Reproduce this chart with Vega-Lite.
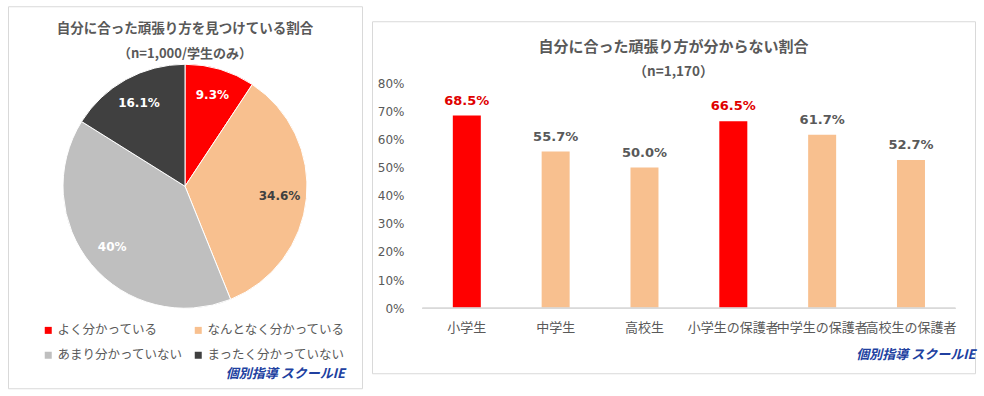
{
  "$schema": "https://vega.github.io/schema/vega-lite/v6.json",
  "padding": {"left": 7, "top": 5, "right": 9, "bottom": 8},
  "background": "white",
  "spacing": 8,
  "center": true,
  "config": {
    "font": "Noto Sans CJK JP",
    "view": {"stroke": "#D9D9D9", "strokeWidth": 1}
  },
  "hconcat": [
    {
      "width": 354,
      "height": 382,
      "view": {"stroke": "#D9D9D9", "strokeWidth": 1},
      "data": {"values": [
        {"answer": "よく分かっている", "pct": 9.3, "order": 1, "label": "9.3%"},
        {"answer": "なんとなく分かっている", "pct": 34.6, "order": 2, "label": "34.6%"},
        {"answer": "あまり分かっていない", "pct": 40.0, "order": 3, "label": "40%"},
        {"answer": "まったく分かっていない", "pct": 16.1, "order": 4, "label": "16.1%"}
      ]},
      "title": {
        "text": "自分に合った頑張り方を見つけている割合",
        "subtitle": "（n=1,000/学生のみ）",
        "anchor": "middle",
        "offset": -55,
        "fontSize": 13.5,
        "fontWeight": "bold",
        "color": "#595959",
        "subtitleFontSize": 13,
        "subtitleFontWeight": "bold",
        "subtitleColor": "#595959",
        "subtitlePadding": 13
      },
      "encoding": {
        "theta": {"field": "pct", "type": "quantitative", "stack": true},
        "order": {"field": "order", "type": "quantitative"}
      },
      "layer": [
        {
          "mark": {"type": "arc", "outerRadius": 122, "stroke": "white", "strokeWidth": 1, "yOffset": -11},
          "encoding": {
            "color": {
              "field": "answer",
              "type": "nominal",
              "sort": ["よく分かっている", "なんとなく分かっている", "あまり分かっていない", "まったく分かっていない"],
              "scale": {
                "domain": ["よく分かっている", "なんとなく分かっている", "あまり分かっていない", "まったく分かっていない"],
                "range": ["#FF0000", "#F8C08F", "#BFBFBF", "#404040"]
              },
              "legend": {
                "orient": "none",
                "legendX": 34,
                "legendY": 318,
                "direction": "horizontal",
                "columns": 2,
                "columnPadding": 9,
                "rowPadding": 12,
                "symbolType": "square",
                "symbolSize": 49,
                "symbolStrokeWidth": 0,
                "symbolOffset": 0,
                "labelFontSize": 12.5,
                "labelColor": "#595959",
                "labelLimit": 0,
                "labelOffset": 3,
                "title": "個別指導 スクールIE",
                "titleOrient": "bottom",
                "titleAnchor": "end",
                "titleFontSize": 13,
                "titleFontStyle": "italic",
                "titleFontWeight": "bold",
                "titleColor": "#2040A0",
                "titlePadding": 6
              }
            }
          }
        },
        {
          "mark": {"type": "text", "radius": 95, "yOffset": -11, "font": "DejaVu Sans", "fontSize": 12, "fontWeight": "bold"},
          "encoding": {
            "text": {"field": "label"},
            "color": {
              "condition": {"test": "datum.answer === 'なんとなく分かっている'", "value": "#404040"},
              "value": "white"
            }
          }
        }
      ]
    },
    {
      "width": 603,
      "height": 352,
      "data": {"values": [
        {"group": "小学生", "target": "小学生", "value": 0.685},
        {"group": "中学生", "target": "中学生", "value": 0.557},
        {"group": "高校生", "target": "高校生", "value": 0.500},
        {"group": "小学生の保護者", "target": "小学生", "value": 0.665},
        {"group": "中学生の保護者", "target": "中学生", "value": 0.617},
        {"group": "高校生の保護者", "target": "高校生", "value": 0.527}
      ]},
      "title": {
        "text": "自分に合った頑張り方が分からない割合",
        "subtitle": "（n=1,170）",
        "anchor": "middle",
        "offset": -57,
        "fontSize": 15,
        "fontWeight": "bold",
        "color": "#595959",
        "subtitleFontSize": 13.5,
        "subtitleFontWeight": "bold",
        "subtitleColor": "#595959",
        "subtitlePadding": 10
      },
      "encoding": {
        "x": {
          "field": "group",
          "type": "nominal",
          "sort": null,
          "scale": {"paddingInner": 0, "paddingOuter": 0.394, "align": 0.72},
          "axis": {
            "orient": "bottom",
            "offset": -65,
            "ticks": false,
            "domain": false,
            "labelAngle": 0,
            "labelPadding": 13,
            "labelFontSize": 13,
            "labelColor": "#595959",
            "labelOverlap": false,
            "labelLimit": 0,
            "title": "個別指導 スクールIE",
            "titleAnchor": "end",
            "titlePadding": 14,
            "titleFontSize": 13,
            "titleFontStyle": "italic",
            "titleFontWeight": "bold",
            "titleColor": "#2040A0"
          }
        }
      },
      "layer": [
        {
          "mark": {"type": "bar", "width": 28},
          "encoding": {
            "y": {
              "field": "value",
              "type": "quantitative",
              "scale": {"domain": [-0.2311, 1.0204], "nice": false, "zero": false},
              "axis": {
                "values": [0, 0.1, 0.2, 0.3, 0.4, 0.5, 0.6, 0.7, 0.8],
                "format": ".0%",
                "orient": "left",
                "offset": -32,
                "ticks": false,
                "domain": false,
                "grid": false,
                "labelPadding": 0,
                "labelFont": "DejaVu Sans",
                "labelFontSize": 12,
                "labelColor": "#595959",
                "title": null
              }
            },
            "y2": {"datum": 0},
            "color": {
              "condition": {"test": "datum.target === '小学生'", "value": "#FF0000"},
              "value": "#F8C08F"
            }
          }
        },
        {
          "mark": {"type": "rule", "color": "#D9D9D9", "strokeWidth": 1},
          "encoding": {
            "x": {"datum": "小学生", "type": "nominal", "bandPosition": 0},
            "x2": {"datum": "高校生の保護者", "bandPosition": 1},
            "y": {"datum": 0, "type": "quantitative"}
          }
        },
        {
          "mark": {"type": "text", "baseline": "bottom", "dy": -8, "font": "DejaVu Sans", "fontSize": 13, "fontWeight": "bold"},
          "encoding": {
            "y": {"field": "value", "type": "quantitative"},
            "text": {"field": "value", "type": "quantitative", "format": ".1%"},
            "color": {
              "condition": {"test": "datum.target === '小学生'", "value": "#E00000"},
              "value": "#595959"
            }
          }
        }
      ]
    }
  ]
}
